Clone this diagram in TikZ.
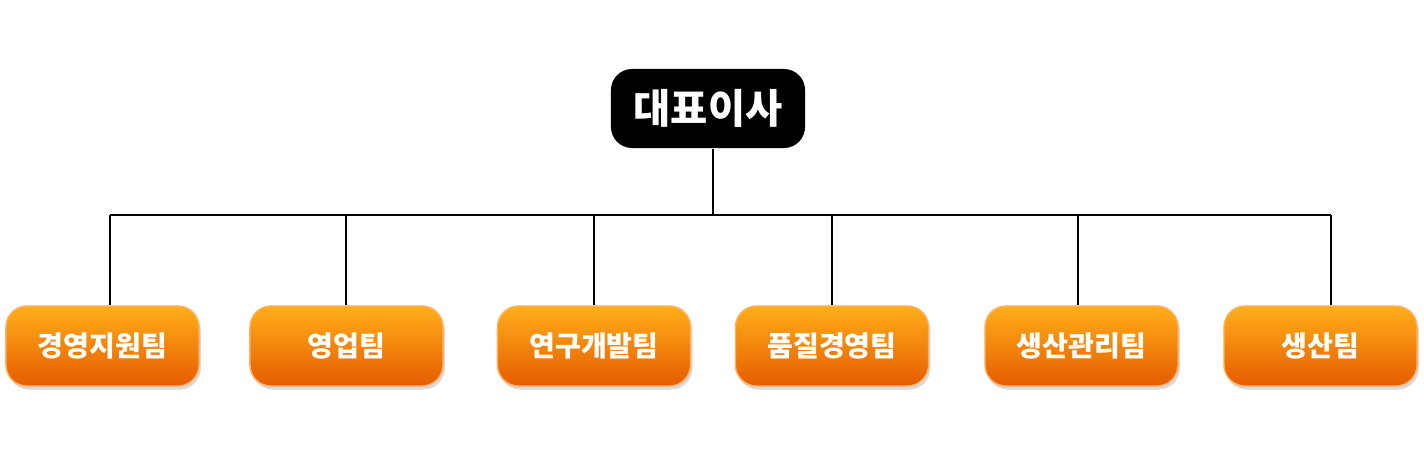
\documentclass[tikz,border=0pt]{standalone}
\usepackage{fontspec}
\setmainfont{Noto Sans CJK KR}
\usetikzlibrary{shadows}

\tikzset{
	boss/.style={rounded corners=6pt, fill=black, text=white, font=\bfseries\fontsize{11.5}{13}\selectfont, minimum width=1.94cm, minimum height=0.79cm},
	team/.style={rounded corners=6pt, top color=orange!70!yellow!90!white, bottom color=orange!80!red!90!black, draw=orange!60!white, text=white, font=\bfseries\fontsize{8}{10}\selectfont, minimum width=1.93cm, minimum height=0.8cm, drop shadow={opacity=0.3, shadow xshift=0.5pt, shadow yshift=-1pt}}
}

\begin{document}
\begin{tikzpicture}[x=0.01cm, y=-0.01cm]
	\useasboundingbox (0,0) rectangle (1424,452);
	\node[boss] (ceo) at (708,108.5) {대표이사};
	\node[team] (t1) at (102.5,346) {경영지원팀};
	\node[team] (t2) at (346.5,346) {영업팀};
	\node[team] (t3) at (594,346) {연구개발팀};
	\node[team] (t4) at (832,346) {품질경영팀};
	\node[team] (t5) at (1081.5,346) {생산관리팀};
	\node[team] (t6) at (1320.5,346) {생산팀};

	% bus
	\coordinate (bus) at (713,215);
	\coordinate (j1) at (110,215);
	\coordinate (j2) at (346,215);
	\coordinate (j3) at (594,215);
	\coordinate (j4) at (832,215);
	\coordinate (j5) at (1078,215);
	\coordinate (j6) at (1331,215);
	\draw[thin] (ceo.south -| bus) -- (bus);
	\draw[thin] (j1) -- (j6);
	\foreach \i in {1,...,6}
		\draw[thin] (j\i) -- (j\i |- t\i.north);
\end{tikzpicture}
\end{document}
